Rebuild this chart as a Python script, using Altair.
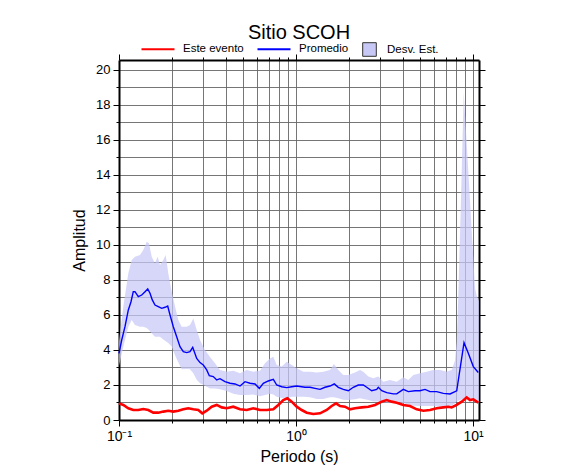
import altair as alt
import pandas as pd

# ---- data ----
band_T = [0.1, 0.1058, 0.1129, 0.1180, 0.1231, 0.1314, 0.1372, 0.1434, 0.1477, 0.1530,
          0.1597, 0.1654, 0.1704, 0.1779, 0.1836, 0.1898, 0.1985, 0.2072, 0.2163, 0.2261,
          0.2413, 0.2518, 0.2630, 0.2748, 0.2869, 0.3060, 0.3267, 0.3486, 0.3721, 0.4060,
          0.4424, 0.4827, 0.5267, 0.5739, 0.6262, 0.6681, 0.7131, 0.7444, 0.7780, 0.8303,
          0.8861, 0.9456, 1.009, 1.0996, 1.2, 1.309, 1.427, 1.556, 1.639, 1.734,
          1.850, 1.975, 2.154, 2.299, 2.400, 2.562, 2.734, 2.917, 3.113, 3.397,
          3.706, 4.039, 4.310, 4.600, 5.018, 5.474, 5.966, 6.510, 7.102, 7.579,
          7.912, 8.09, 8.26, 8.555, 8.861, 9.213, 9.618, 10.04, 10.27, 10.49, 10.81]
band_hi = [4.5, 6.48, 8.38, 9.14, 9.33, 9.43, 9.71, 10.19, 10.1, 9.33,
           8.95, 9.33, 8.86, 9.14, 9.43, 8.38, 7.33, 6.48, 5.71, 5.33,
           5.33, 5.43, 5.8, 5.14, 4.57, 4.0, 3.6, 3.24, 2.86, 2.76,
           2.82, 2.67, 2.86, 2.76, 2.82, 3.24, 3.52, 3.62, 3.14, 3.05,
           3.33, 3.14, 2.95, 2.76, 2.76, 2.71, 2.76, 2.86, 3.2, 2.86,
           2.57, 2.57, 2.71, 2.86, 2.76, 2.48, 2.38, 2.48, 2.19, 2.29,
           2.19, 2.44, 2.29, 2.57, 2.67, 2.76, 2.86, 2.86, 2.76, 2.86,
           3.4, 4.5, 7.1, 12.7, 18.7, 15.8, 12.5, 9.2, 7.5, 7.1, 6.8]
band_lo = [3.1, 4.19, 5.33, 5.71, 5.43, 5.33, 5.33, 5.25, 5.14, 4.95,
           4.76, 4.76, 4.76, 4.6, 4.5, 4.4, 4.2, 3.7, 3.3, 2.9,
           2.92, 2.9, 2.67, 2.3, 2.1, 1.95, 1.8, 1.8, 1.75, 1.65,
           1.5, 1.43, 1.43, 1.45, 1.35, 1.43, 1.5, 1.45, 1.33, 1.26,
           1.27, 1.33, 1.33, 1.33, 1.3, 1.2, 1.2, 1.3, 1.3, 1.24,
           1.15, 1.14, 1.18, 1.24, 1.2, 1.14, 1.05, 1.05, 1.02, 0.99,
           1.05, 0.95, 0.88, 0.82, 0.8, 0.8, 0.8, 0.76, 0.76, 0.8,
           0.95, 1.05, 1.1, 1.15, 1.2, 1.3, 1.2, 1.1, 1.05, 1.0, 1.0]

prom_T = [0.1, 0.1036, 0.1081, 0.1129, 0.1169, 0.1204, 0.1231, 0.1285, 0.1344, 0.1403,
          0.1453, 0.1497, 0.1542, 0.1597, 0.1667, 0.1743, 0.1820, 0.1884, 0.1942, 0.2027,
          0.2118, 0.2211, 0.2308, 0.2413, 0.2518, 0.2609, 0.2748, 0.2869, 0.2994, 0.3130,
          0.3237, 0.3410, 0.3565, 0.3721, 0.3970, 0.4238, 0.4523, 0.4827, 0.5151, 0.5498,
          0.5868, 0.6205, 0.6536, 0.6975, 0.7444, 0.7780, 0.8303, 0.8861, 0.9456, 1.009,
          1.124, 1.2, 1.281, 1.367, 1.458, 1.556, 1.646, 1.734, 1.850, 1.975,
          2.107, 2.249, 2.400, 2.508, 2.677, 2.857, 2.917, 3.050, 3.254, 3.545,
          3.706, 4.039, 4.310, 4.702, 5.018, 5.356, 5.716, 6.236, 6.797, 7.418,
          8.09, 8.896, 9.407, 10.04, 10.71]
prom_A = [3.81, 4.57, 5.33, 6.29, 6.76, 7.33, 7.33, 7.05, 7.14, 7.33,
          7.49, 7.24, 6.86, 6.57, 6.48, 6.38, 6.44, 6.51, 6.0, 5.33,
          4.76, 4.19, 3.9, 3.85, 3.9, 4.15, 3.52, 3.28, 3.14, 2.86,
          2.53, 2.48, 2.29, 2.36, 2.19, 2.1, 2.06, 1.94, 2.19, 2.1,
          2.06, 1.81, 2.1, 2.23, 2.32, 2.0, 1.9, 1.85, 1.9, 1.94,
          1.87, 1.87, 1.81, 1.75, 1.87, 1.94, 2.06, 1.87, 1.75, 1.67,
          1.87, 2.0, 2.0, 1.87, 1.67, 1.75, 1.87, 1.67, 1.56, 1.49,
          1.49, 1.75, 1.62, 1.67, 1.67, 1.75, 1.62, 1.62, 1.52, 1.49,
          1.67, 4.42, 3.81, 3.05, 2.71]

evento_T = [0.1, 0.1058, 0.1129, 0.1204, 0.1285, 0.1372, 0.1464, 0.1562, 0.1667, 0.1779,
            0.1898, 0.2027, 0.2163, 0.2308, 0.2464, 0.2630, 0.2806, 0.2955, 0.3130, 0.3340,
            0.3565, 0.3804, 0.4060, 0.4424, 0.4827, 0.5267, 0.5739, 0.6262, 0.6831, 0.7444,
            0.7943, 0.8477, 0.8930, 0.9456, 1.009, 1.077, 1.150, 1.252, 1.367, 1.491,
            1.591, 1.683, 1.773, 1.892, 2.019, 2.154, 2.351, 2.562, 2.795, 3.050,
            3.254, 3.473, 3.706, 4.039, 4.406, 4.809, 5.239, 5.716, 6.236, 6.797,
            7.256, 7.579, 8.09, 8.636, 9.213, 9.618, 10.04, 10.71]
evento_A = [0.95, 0.86, 0.67, 0.57, 0.57, 0.63, 0.57, 0.42, 0.42, 0.48,
            0.53, 0.48, 0.53, 0.61, 0.67, 0.61, 0.57, 0.38, 0.53, 0.76,
            0.86, 0.72, 0.67, 0.76, 0.61, 0.57, 0.67, 0.57, 0.57, 0.61,
            0.86, 1.14, 1.24, 1.05, 0.76, 0.57, 0.42, 0.34, 0.38, 0.57,
            0.8, 0.95, 0.8, 0.76, 0.61, 0.67, 0.72, 0.76, 0.86, 1.05,
            1.14, 1.05, 0.99, 0.86, 0.8, 0.61, 0.53, 0.57, 0.67, 0.72,
            0.76, 0.72, 0.86, 1.05, 1.29, 1.14, 1.18, 0.99]

x_ticks = [0.1, 0.2, 0.3, 0.4, 0.5, 0.6, 0.7, 0.8, 0.9,
           1, 2, 3, 4, 5, 6, 7, 8, 9, 10]
y_ticks = list(range(0, 21))

FONT = "Liberation Sans"
XDOM = [0.1, 10.81]
YDOM = [0, 20.57]

band_df = pd.DataFrame({"T": band_T, "hi": band_hi, "lo": band_lo, "serie": "Desv. Est."})
prom_df = pd.DataFrame({"T": prom_T, "A": prom_A, "serie": "Promedio"})
ev_df = pd.DataFrame({"T": evento_T, "A": evento_A, "serie": "Este evento"})

is_decade = "abs(log(datum.value)/LN10 - round(log(datum.value)/LN10)) < 0.001"
x_label = ("abs(log(datum.value)/LN10 - round(log(datum.value)/LN10)) < 0.001 ? "
           "(round(log(datum.value)/LN10) == -1 ? '10⁻¹' : "
           "(round(log(datum.value)/LN10) == 0 ? '10⁰' : '10¹')) : ''")

xscale = alt.Scale(type="log", domain=XDOM, nice=False)
yscale = alt.Scale(domain=YDOM, nice=False, zero=False)

x_axis = alt.Axis(values=x_ticks, labelExpr=x_label, labelOverlap=False, labelFlush=False,
                  labelFontSize=14, title="Periodo (s)", grid=True,
                  tickSize={"condition": {"test": is_decade, "value": 6}, "value": 3})
y_axis = alt.Axis(values=y_ticks, labelExpr="datum.value % 2 == 0 ? datum.label : ''",
                  labelOverlap=False, title="Amplitud", grid=True,
                  tickSize={"condition": {"test": "datum.value % 2 == 0", "value": 6}, "value": 3})

line_color = alt.Color("serie:N",
                       scale=alt.Scale(domain=["Este evento", "Promedio"], range=["#ff0000", "#0000ff"]),
                       legend=alt.Legend(title=None, orient="none", legendX=21, legendY=-29,
                                         direction="horizontal", symbolType="stroke",
                                         symbolSize=1089, symbolStrokeWidth=2.2,
                                         labelFontSize=11.5, labelFont=FONT, labelOffset=7,
                                         columnPadding=9))

band = alt.Chart(band_df).mark_area(opacity=0.72).encode(
    x=alt.X("T:Q", scale=xscale, axis=x_axis),
    y=alt.Y("lo:Q", scale=yscale, axis=y_axis),
    y2="hi:Q",
    fill=alt.Fill("serie:N",
                  scale=alt.Scale(domain=["Desv. Est."], range=["#c8c8f6"]),
                  legend=alt.Legend(title=None, orient="none", legendX=243, legendY=-18,
                                    symbolType="square", symbolSize=185,
                                    symbolStrokeColor="#333333", symbolStrokeWidth=1,
                                    symbolFillColor="#d8d8fa", symbolOpacity=1,
                                    labelFontSize=11.5, labelFont=FONT, labelOffset=10)),
)

prom = alt.Chart(prom_df).mark_line(strokeWidth=1.4).encode(
    x=alt.X("T:Q", scale=xscale, axis=x_axis),
    y=alt.Y("A:Q", scale=yscale, axis=y_axis), color=line_color)
ev = alt.Chart(ev_df).mark_line(strokeWidth=2.6).encode(
    x=alt.X("T:Q", scale=xscale, axis=x_axis),
    y=alt.Y("A:Q", scale=yscale, axis=y_axis), color=line_color)

inner = alt.layer(band, prom, ev)

frame = alt.Chart(band_df).mark_line(opacity=0).encode(
    x=alt.X("T:Q", scale=alt.Scale(type="log", domain=XDOM, nice=False),
            axis=alt.Axis(orient="top", values=x_ticks, labels=False, title=None, grid=False,
                          tickSize={"condition": {"test": is_decade, "value": 6}, "value": 3})),
    y=alt.Y("hi:Q", scale=alt.Scale(domain=YDOM, nice=False, zero=False),
            axis=alt.Axis(orient="right", values=y_ticks, labels=False, title=None, grid=False,
                          tickSize={"condition": {"test": "datum.value % 2 == 0", "value": 6}, "value": 3})),
)

chart = alt.layer(inner, frame).resolve_scale(x="independent", y="independent").properties(
    width=360, height=360,
    autosize="none",
    padding={"left": 111, "top": 52, "right": 99, "bottom": 47},
    title=alt.TitleParams("Sitio SCOH", fontSize=20, font=FONT, fontWeight="normal",
                          anchor="middle", offset=4, dy=16),
).configure_view(stroke=None).configure_axis(
    domainColor="black", domainWidth=2, tickColor="black", tickWidth=1,
    gridColor="#666666", gridWidth=0.9, gridOpacity=1,
    labelFont=FONT, labelFontSize=13, labelColor="black", labelPadding=3,
    titleFont=FONT, titleFontSize=16, titleFontWeight="normal", titleColor="black",
).configure_axisX(titlePadding=5).configure_axisY(titlePadding=8)

chart.save("out.html", embed_options={"renderer": "svg", "actions": False})
